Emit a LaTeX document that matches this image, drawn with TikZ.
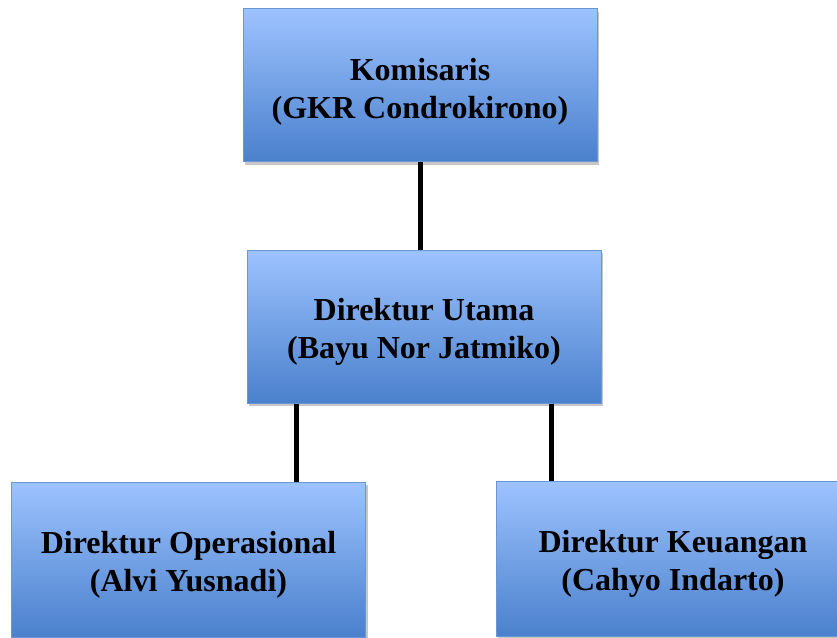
\documentclass[tikz,border=0pt]{standalone}
\usepackage{fontspec}
\setmainfont{Liberation Serif}
\usepackage{xcolor}
\usepackage{tikz}
\usetikzlibrary{calc,shadows}
\definecolor{boxtop}{HTML}{9DC3FF}
\definecolor{boxbottom}{HTML}{4A80CC}
\definecolor{boxline}{HTML}{6A96D6}
\newcommand{\lowstrut}[1]{\rule{0pt}{#1}}

\begin{document}
\begin{tikzpicture}[x=1pt,y=-1pt,
    orgbox/.style={draw=boxline,line width=1pt,top color=boxtop,bottom color=boxbottom,
      minimum width=354pt,minimum height=153pt,align=center,inner sep=0pt,
      font=\fontsize{32}{38}\selectfont\bfseries,
      drop shadow={opacity=0.45,shadow xshift=2pt,shadow yshift=-3pt}},
    link/.style={line width=5pt,black}]
    \useasboundingbox (0,0) rectangle (837,637);
    \node[orgbox] (kom) at (420,85) {\lowstrut{36pt}Komisaris\\(GKR Condrokirono)};
    \node[orgbox] (dirut) at (424,326.5) {\lowstrut{32pt}Direktur Utama\\(Bayu Nor Jatmiko)};
    \node[orgbox,minimum height=155pt] (ops) at (188.5,559.5) {\lowstrut{32pt}Direktur Operasional\\(Alvi Yusnadi)};
    \node[orgbox,minimum height=155pt] (keu) at (673,559) {\lowstrut{32pt}Direktur Keuangan\\(Cahyo Indarto)};
    \coordinate (ka) at ($(dirut.south west)!0.14!(dirut.south east)$);
    \coordinate (kb) at ($(dirut.south west)!0.86!(dirut.south east)$);
    \draw[link] (kom.south) -- (kom.south |- dirut.north);
    \draw[link] (ka) -- (ka |- ops.north);
    \draw[link] (kb) -- (kb |- keu.north);
\end{tikzpicture}
\end{document}
